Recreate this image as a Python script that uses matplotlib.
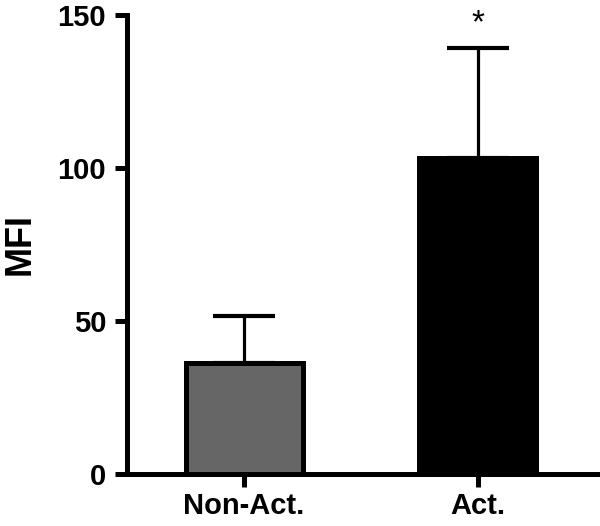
import matplotlib
matplotlib.use("Agg")
import matplotlib.pyplot as plt

categories = ["Non-Act.", "Act."]
means = [36.3, 103.3]
errors = [15.3, 35.9]
colors = ["#666666", "#000000"]
y_ticks = [0, 50, 100, 150]
y_label = "MFI"
sig_marks = ["", "*"]

plt.rcParams['font.family'] = ['Liberation Sans', 'DejaVu Sans']

fig = plt.figure(figsize=(6.0, 5.26), dpi=100)
ax = fig.add_axes([0.2117, 0.0989, 0.785, 0.8726])

x = list(range(len(categories)))
ax.errorbar(x, means, yerr=[[0] * len(errors), errors], fmt='none',
            ecolor='black', elinewidth=2.3, capsize=22, capthick=3.0, zorder=1)
ax.bar(x, means, width=0.5, color=colors, edgecolor='black', linewidth=3.6, zorder=2)

for xi, m, e, s in zip(x, means, errors, sig_marks):
    if s:
        ax.text(xi, m + e + 3, s, ha='center', va='bottom', fontsize=24)

ax.set_xlim(-0.5, 1.513)
ax.set_ylim(0, 150)
ax.set_yticks(y_ticks)
ax.set_xticks(x)
ax.set_xticklabels(categories, fontsize=21, fontweight='bold')
for lab in ax.get_yticklabels():
    lab.set_fontsize(21)
    lab.set_fontweight('bold')
ax.set_ylabel(y_label, fontsize=26, fontweight='bold')
ax.yaxis.label.set_verticalalignment('center')
ax.yaxis.set_label_coords(-0.228, 0.5)

for side in ['top', 'right']:
    ax.spines[side].set_visible(False)
for side in ['left', 'bottom']:
    ax.spines[side].set_linewidth(3.6)
ax.tick_params(axis='both', width=3.6, length=9)
ax.tick_params(axis='y', pad=6)
ax.tick_params(axis='x', pad=4)

fig.savefig("out.png", dpi=100)
